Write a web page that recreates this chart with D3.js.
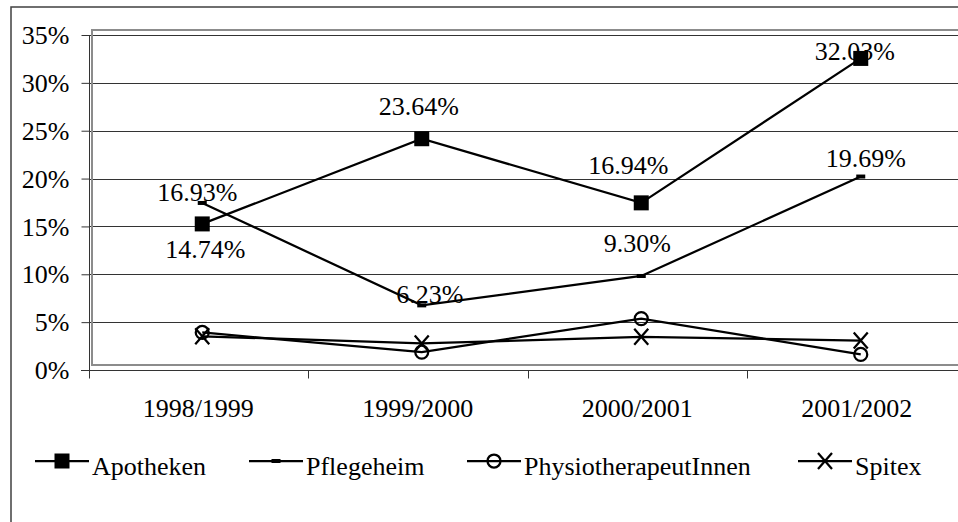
<!DOCTYPE html>
<html>
<head>
<meta charset="utf-8">
<script src="https://cdn.jsdelivr.net/npm/d3@7"></script>
<style>
  html, body { margin: 0; padding: 0; background: #fff; }
  svg { display: block; }
  text { font-family: "Liberation Serif", "Times New Roman", serif; font-size: 26px; fill: #000; }
</style>
</head>
<body>
<script>
// data
var categories = ["1998/1999", "1999/2000", "2000/2001", "2001/2002"];
var seriesNames = ["Apotheken", "Pflegeheim", "PhysiotherapeutInnen", "Spitex"];
var apotheken = [14.74, 23.64, 16.94, 32.03];
var pflegeheim = [16.93, 6.23, 9.30, 19.69];
var physio = [3.4, 1.35, 4.85, 1.1];
var spitex = [3.0, 2.25, 2.95, 2.55];
var yTicks = [0, 5, 10, 15, 20, 25, 30, 35];

// canvas
var width = 958,
    height = 522;

var svg = d3.select("body").append("svg")
    .attr("width", width)
    .attr("height", height);

// scales (axis frame)
var x = d3.scaleBand()
    .domain(categories)
    .range([88.5, 966.5]);

var y = d3.scaleLinear()
    .domain([0, 35])
    .range([370, 35]);

// outer chart border (cut off at right/bottom like the original)
svg.append("rect")
    .attr("x", 11).attr("y", 7)
    .attr("width", 1000).attr("height", 600)
    .attr("fill", "none")
    .attr("stroke", "#404040")
    .attr("stroke-width", 1.5);

// gridlines
svg.append("g")
    .selectAll("line")
    .data(yTicks)
    .enter().append("line")
    .attr("x1", 89).attr("x2", width)
    .attr("y1", function(d) { return Math.round(y(d)) + 0.5; })
    .attr("y2", function(d) { return Math.round(y(d)) + 0.5; })
    .attr("stroke", "#333")
    .attr("stroke-width", 1);

// plot area frame, sits slightly offset from the axes
var dx = 4, dy = -5;
svg.append("rect")
    .attr("x", 92).attr("y", y(35) + dy)
    .attr("width", 900).attr("height", y(0) - y(35))
    .attr("fill", "none")
    .attr("stroke", "#8c8c8c")
    .attr("stroke-width", 2);

// y axis
var yAxis = d3.axisLeft(y)
    .tickValues(yTicks)
    .tickSize(8)
    .tickPadding(12)
    .tickFormat(function(d) { return d + "%"; });

var gy = svg.append("g")
    .attr("transform", "translate(89.5,0)")
    .call(yAxis);
gy.select(".domain").attr("d", "M0," + y(35) + "V378").attr("stroke", "#333");
gy.selectAll(".tick line").attr("stroke", "#333");
gy.selectAll(".tick text")
    .attr("font-size", 26)
    .attr("font-family", null)
    .attr("dy", "0.33em");

// x axis
var xAxis = d3.axisBottom(x)
    .tickSize(0)
    .tickPadding(44);

var gx = svg.append("g")
    .attr("transform", "translate(0,370.5)")
    .call(xAxis);
gx.select(".domain").attr("d", "M81,0H" + width).attr("stroke", "#333");
gx.selectAll(".tick text")
    .attr("font-size", 26)
    .attr("font-family", null)
    .attr("dy", "0.1em");

// category boundary ticks
gx.append("g")
    .selectAll("line")
    .data(categories)
    .enter().append("line")
    .attr("x1", function(d) { return Math.round(x(d)) + 0.5; })
    .attr("x2", function(d) { return Math.round(x(d)) + 0.5; })
    .attr("y1", 0).attr("y2", 8)
    .attr("stroke", "#333");

// data layer
var g = svg.append("g")
    .attr("transform", "translate(" + dx + "," + dy + ")");

var cx = function(i) { return x(categories[i]) + x.bandwidth() / 2; };

var line = d3.line()
    .x(function(d, i) { return cx(i); })
    .y(function(d) { return y(d); });

var allSeries = [apotheken, pflegeheim, physio, spitex];

function drawMarker(sel, type) {
  if (type === 0) {
    sel.append("rect").attr("x", -7.5).attr("y", -7.5).attr("width", 15).attr("height", 15)
      .attr("fill", "#000");
  } else if (type === 1) {
    sel.append("rect").attr("x", -4.5).attr("y", -2).attr("width", 9).attr("height", 4)
      .attr("fill", "#000");
  } else if (type === 2) {
    sel.append("circle").attr("r", 6.5)
      .attr("fill", "none").attr("stroke", "#000").attr("stroke-width", 2.25);
  } else {
    sel.append("path").attr("d", "M-7,-8L7,8M-7,8L7,-8")
      .attr("fill", "none").attr("stroke", "#000").attr("stroke-width", 2.25);
  }
}

allSeries.forEach(function(vals, s) {
  g.append("path")
    .datum(vals)
    .attr("d", line)
    .attr("fill", "none")
    .attr("stroke", "#000")
    .attr("stroke-width", 2.25);
});

allSeries.forEach(function(vals, s) {
  vals.forEach(function(v, i) {
    var m = g.append("g").attr("transform", "translate(" + cx(i) + "," + y(v) + ")");
    drawMarker(m, s);
  });
});

// data labels (Apotheken and Pflegeheim), offsets as placed in the original
var labelOffsets = [
  [[3, 34], [-3, -24], [-13, -29], [-6, 2]],
  [[-5, -2], [8, -2], [-4, -24], [5, -10]]
];

[apotheken, pflegeheim].forEach(function(vals, s) {
  g.append("g")
    .selectAll("text")
    .data(vals)
    .enter().append("text")
    .attr("x", function(d, i) { return cx(i) + labelOffsets[s][i][0]; })
    .attr("y", function(d, i) { return y(d) + labelOffsets[s][i][1]; })
    .attr("text-anchor", "middle")
    .text(function(d) { return d3.format(".2f")(d) + "%"; });
});

// legend
var legendX = [35, 249, 467, 798];
var legend = svg.append("g");
seriesNames.forEach(function(name, s) {
  var lg = legend.append("g").attr("transform", "translate(" + legendX[s] + ",461)");
  lg.append("line").attr("x1", 0).attr("x2", 54).attr("y1", 0).attr("y2", 0)
    .attr("stroke", "#000").attr("stroke-width", 2.25);
  drawMarker(lg.append("g").attr("transform", "translate(27,0)"), s);
  lg.append("text").attr("x", 57).attr("y", 14).text(name);
});
</script>
</body>
</html>
